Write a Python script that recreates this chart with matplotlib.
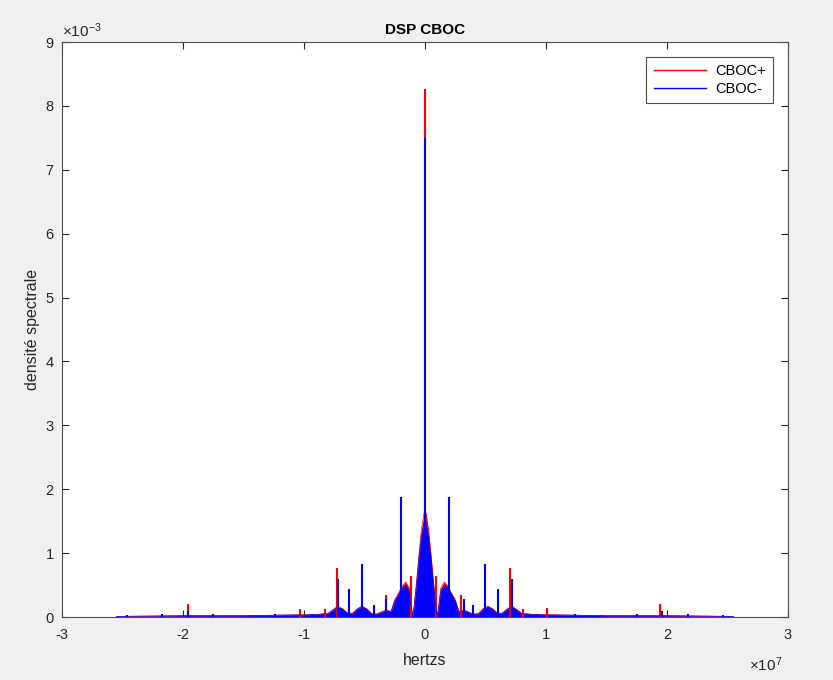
#!/usr/bin/env python3
import matplotlib
matplotlib.use("Agg")
from matplotlib import pyplot as plt

plt.rcParams['font.family'] = ['Liberation Sans', 'DejaVu Sans']
plt.rcParams['axes.unicode_minus'] = False

# frequency in units of 1e7 Hz, density in units of 1e-3
env_freq = [-2.55, -2.0, -1.5, -1.2, -1.0, -0.9, -0.8, -0.75, -0.72, -0.68,
            -0.64, -0.6, -0.56, -0.52, -0.48, -0.44, -0.4, -0.36, -0.32, -0.28,
            -0.25, -0.22, -0.19, -0.16, -0.13, -0.11, -0.10, -0.09, -0.07, -0.05,
            -0.03, -0.01, 0.0, 0.01, 0.03, 0.05, 0.07, 0.09, 0.10, 0.11,
            0.13, 0.16, 0.19, 0.22, 0.25, 0.28, 0.32, 0.36, 0.4, 0.44,
            0.48, 0.52, 0.56, 0.6, 0.64, 0.68, 0.72, 0.75, 0.8, 0.9,
            1.0, 1.2, 1.5, 2.0, 2.55]
env_plus = [0.01, 0.02, 0.02, 0.03, 0.04, 0.04, 0.06, 0.13, 0.17, 0.13,
            0.06, 0.06, 0.13, 0.17, 0.13, 0.05, 0.05, 0.08, 0.11, 0.09,
            0.27, 0.37, 0.48, 0.55, 0.45, 0.11, 0.04, 0.17, 0.55, 0.97,
            1.35, 1.6, 1.7, 1.6, 1.35, 0.97, 0.55, 0.17, 0.04, 0.11,
            0.45, 0.55, 0.48, 0.37, 0.27, 0.09, 0.11, 0.08, 0.05, 0.05,
            0.13, 0.17, 0.13, 0.06, 0.06, 0.13, 0.17, 0.13, 0.06, 0.04,
            0.04, 0.03, 0.02, 0.02, 0.01]
env_minus = [0.01, 0.02, 0.02, 0.03, 0.03, 0.04, 0.05, 0.12, 0.15, 0.12,
             0.06, 0.05, 0.12, 0.16, 0.12, 0.05, 0.04, 0.07, 0.10, 0.08,
             0.25, 0.35, 0.45, 0.50, 0.40, 0.10, 0.03, 0.15, 0.50, 0.90,
             1.25, 1.45, 1.50, 1.45, 1.25, 0.90, 0.50, 0.15, 0.03, 0.10,
             0.40, 0.50, 0.45, 0.35, 0.25, 0.08, 0.10, 0.07, 0.04, 0.05,
             0.12, 0.16, 0.12, 0.05, 0.06, 0.12, 0.15, 0.12, 0.05, 0.04,
             0.03, 0.03, 0.02, 0.02, 0.01]

plus_spike_freq = [-1.96, -1.03, -0.83, -0.73, -0.32, -0.115, 0.0, 0.09, 0.30, 0.70, 0.81, 1.01, 1.94]
plus_spike_amp = [0.20, 0.13, 0.12, 0.77, 0.34, 0.65, 8.27, 0.65, 0.34, 0.77, 0.12, 0.14, 0.20]

minus_spike_freq = [-2.46, -2.17, -1.96, -1.75, -1.24, -0.93, -0.72, -0.63, -0.52, -0.42, -0.32, -0.2,
                    0.0, 0.2, 0.32, 0.40, 0.50, 0.60, 0.72, 0.93, 1.24, 1.75, 1.96, 2.17, 2.46]
minus_spike_amp = [0.03, 0.05, 0.10, 0.05, 0.05, 0.05, 0.60, 0.44, 0.83, 0.19, 0.28, 1.88,
                   7.50, 1.88, 0.28, 0.19, 0.83, 0.44, 0.60, 0.05, 0.05, 0.05, 0.10, 0.05, 0.03]

x_ticks = [-3, -2, -1, 0, 1, 2, 3]
y_ticks = [0, 1, 2, 3, 4, 5, 6, 7, 8, 9]

RED = '#ff0000'
BLUE = '#0000ff'
TXT = '#262626'


def main():
    fig = plt.figure(figsize=(8.33, 6.8), dpi=100, facecolor='#f0f0f0')
    ax = fig.add_axes([0.0744, 0.0926, 0.8715, 0.8456])
    ax.set_facecolor('white')

    # red series first, blue drawn over it like in the original
    ax.fill_between(env_freq, 0, env_plus, color=RED, lw=0)
    ax.plot(env_freq, env_plus, color=RED, lw=0.5, label='CBOC+')
    ax.vlines(plus_spike_freq, 0, plus_spike_amp, color=RED, lw=1.5)

    ax.fill_between(env_freq, 0, env_minus, color=BLUE, lw=0)
    ax.plot(env_freq, env_minus, color=BLUE, lw=0.5, label='CBOC-')
    ax.vlines(minus_spike_freq, 0, minus_spike_amp, color=BLUE, lw=1.5)

    ax.set_xlim(-3, 3)
    ax.set_ylim(0, 9)
    ax.set_xticks(x_ticks)
    ax.set_yticks(y_ticks)
    ax.tick_params(direction='in', length=5, width=0.8, colors=TXT, labelsize=10.5,
                   top=True, right=True)
    ax.tick_params(axis='x', pad=8)
    ax.tick_params(axis='y', pad=6)
    for s in ax.spines.values():
        s.set_color('#4d4d4d')
        s.set_linewidth(0.8)

    ax.set_title('DSP CBOC', fontsize=11, fontweight='bold', color='black', pad=6)
    ax.set_xlabel('hertzs', fontsize=11.5, color=TXT, labelpad=8)
    ax.set_ylabel('densité spectrale', fontsize=11.5, color=TXT, labelpad=4)

    ax.text(0.0, 1.004, r'$\mathregular{\times10^{-3}}$', transform=ax.transAxes,
            fontsize=11, color=TXT, ha='left', va='bottom')
    ax.text(0.993, -0.066, r'$\mathregular{\times10^{7}}$', transform=ax.transAxes,
            fontsize=11, color=TXT, ha='right', va='top')

    leg = ax.legend(loc='upper right', fontsize=10.5, fancybox=False, framealpha=1,
                    edgecolor='#4d4d4d', handlelength=3.6, borderpad=0.5,
                    labelspacing=0.25, handletextpad=0.6, bbox_to_anchor=(0.9895, 0.9865))
    leg.get_frame().set_linewidth(0.8)
    for h in leg.get_lines():
        h.set_linewidth(1.0)

    fig.savefig('out.png', dpi=100, facecolor=fig.get_facecolor())


if __name__ == "__main__":
    main()
